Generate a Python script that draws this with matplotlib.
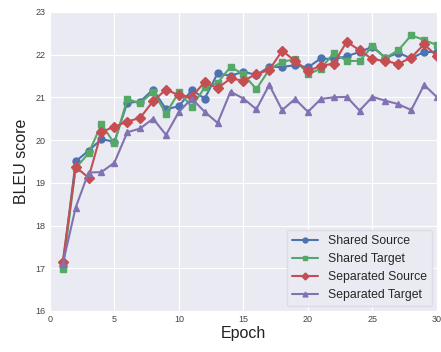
import matplotlib
matplotlib.use("Agg")
import matplotlib.pyplot as plt
import seaborn as sns

epochs = list(range(1, 31))

shared_source = [17.05, 19.50, 19.75, 20.02, 19.96, 20.87, 20.90, 21.18, 20.72, 20.79,
                 21.17, 20.97, 21.56, 21.50, 21.60, 21.52, 21.71, 21.71, 21.75, 21.70,
                 21.91, 21.89, 21.96, 22.06, 22.18, 21.92, 22.04, 21.91, 22.06, 22.06]
shared_target = [16.98, 19.34, 19.69, 20.37, 19.92, 20.96, 20.86, 21.13, 20.62, 21.12,
                 20.78, 21.23, 21.34, 21.71, 21.54, 21.19, 21.65, 21.83, 21.89, 21.54,
                 21.67, 22.04, 21.85, 21.85, 22.20, 21.92, 22.10, 22.45, 22.34, 22.22]
separated_source = [17.15, 19.37, 19.12, 20.19, 20.31, 20.43, 20.52, 20.91, 21.18, 21.05,
                    21.01, 21.36, 21.21, 21.44, 21.39, 21.54, 21.64, 22.09, 21.85, 21.62,
                    21.73, 21.79, 22.30, 22.10, 21.89, 21.85, 21.78, 21.93, 22.24, 21.96]
separated_target = [17.10, 18.42, 19.24, 19.25, 19.47, 20.18, 20.27, 20.50, 20.12, 20.66,
                    20.97, 20.66, 20.40, 21.13, 20.97, 20.72, 21.29, 20.70, 20.96, 20.66,
                    20.96, 21.00, 21.01, 20.69, 21.01, 20.92, 20.84, 20.70, 21.29, 21.00]

series = [
    ("Shared Source", shared_source, "o", "#4C72B0"),
    ("Shared Target", shared_target, "s", "#55A868"),
    ("Separated Source", separated_source, "D", "#C44E52"),
    ("Separated Target", separated_target, "^", "#8172B2"),
]

sns.set_style("darkgrid")
plt.rcParams['font.family'] = ['Liberation Sans', 'DejaVu Sans']

fig = plt.figure(figsize=(4.41, 3.52), dpi=100)
ax = fig.add_axes([0.113, 0.1165, 0.878, 0.85])

for label, vals, marker, color in series:
    ax.plot(epochs, vals, marker=marker, color=color, label=label,
            linewidth=1.5, markersize=5)

ax.set_xlim(0, 30)
ax.set_ylim(16, 23)
ax.set_xticks([0, 5, 10, 15, 20, 25, 30])
ax.set_yticks(range(16, 24))
ax.tick_params(labelsize=6.5, colors='#444444', length=0, pad=3)
ax.set_xlabel("Epoch", fontsize=11.5, color='#222222', labelpad=1)
ax.set_ylabel("BLEU score", fontsize=11.5, color='#222222', labelpad=5)

ax.legend(loc="lower right", fontsize=8.8, frameon=True, facecolor='#EAEAF2',
          edgecolor='#dcdce6', framealpha=1, borderpad=0.4, handlelength=2.2,
          markerscale=0.7, labelspacing=0.5, borderaxespad=0.4)

fig.savefig("out.png", dpi=100)
